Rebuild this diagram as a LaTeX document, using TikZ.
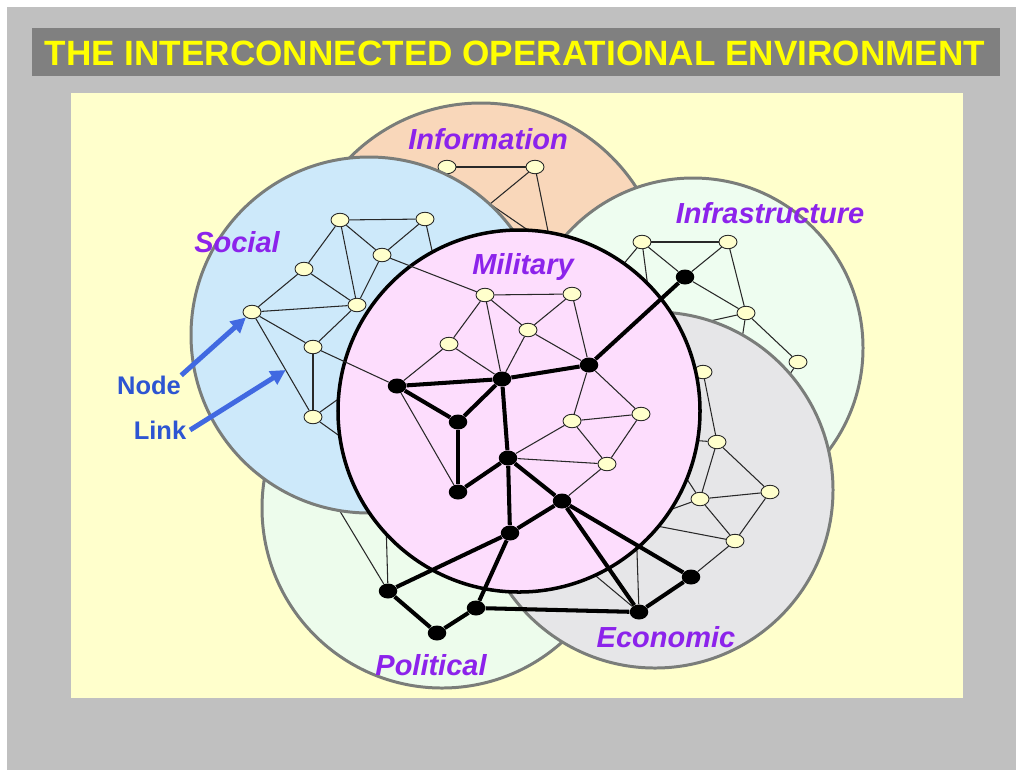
\documentclass[tikz,border=0pt]{standalone}
\usepackage{fontspec}
\setmainfont{Liberation Sans}
\usepackage{xcolor}
\usetikzlibrary{shapes.geometric,arrows.meta}

\definecolor{slidegray}{RGB}{192,192,192}
\definecolor{bargray}{RGB}{128,128,128}
\definecolor{titleyellow}{RGB}{255,255,0}
\definecolor{panelyellow}{RGB}{255,255,204}
\definecolor{infofill}{RGB}{249,215,186}
\definecolor{socialfill}{RGB}{205,233,250}
\definecolor{infrafill}{RGB}{238,253,240}
\definecolor{polfill}{RGB}{237,252,236}
\definecolor{econfill}{RGB}{230,230,232}
\definecolor{milfill}{RGB}{253,221,253}
\definecolor{ringgray}{RGB}{122,125,122}
\definecolor{nodecream}{RGB}{255,255,204}
\definecolor{linkgray}{RGB}{40,40,40}
\definecolor{areapurple}{RGB}{140,35,235}
\definecolor{pointblue}{RGB}{65,105,225}
\definecolor{textblue}{RGB}{45,85,210}

\tikzset{
  ring/.style={draw=ringgray, line width=1.7pt},
  pt/.style={ellipse, draw=linkgray, fill=nodecream, line width=0.5pt,
    minimum width=0.36cm, minimum height=0.27cm, inner sep=0pt},
  hub/.style={ellipse, fill=black, minimum width=0.37cm, minimum height=0.3cm, inner sep=0pt},
  weblink/.style={draw=linkgray, line width=0.6pt},
  backbone/.style={draw=black, line width=2.3pt},
  area/.style={text=areapurple, font=\fontsize{16.5}{18}\selectfont\bfseries\itshape},
  calltext/.style={text=textblue, inner sep=0pt, font=\fontsize{14.5}{16}\selectfont\bfseries},
  pointer/.style={draw=pointblue, line width=2.8pt, -{Triangle[length=0.3cm,width=0.3cm]}}
}

\begin{document}
\begin{tikzpicture}[x=0.02cm, y=-0.02cm]
    \useasboundingbox (0,0) rectangle (1016,769);
    \fill[white] (-5,-5) rectangle (1025,780);
    \fill[slidegray] (7,7) rectangle (1025,780);

    % title bar
    \fill[bargray] (32,28) rectangle (1000,76);
    \node[text=titleyellow, font=\fontsize{20}{24}\selectfont\bfseries] (title) at (515,53)
        {THE INTERCONNECTED OPERATIONAL ENVIRONMENT};
    \fill[panelyellow] (71,93) rectangle (963,698);

    % Information
    \draw[ring, fill=infofill] (481,288) circle (185);
    \node[pt] (i1) at (447,167) {};
    \node[pt] (i2) at (535,167) {};
    \coordinate (ih1) at (490,204);
    \coordinate (ih2) at (551,246);
    \draw[weblink] (i1) -- (i2); % i1-i2
    \draw[weblink] (i2) -- (ih1);
    \draw[weblink] (i2) -- (ih2);
    \draw[weblink] (ih1) -- (ih2);

    % Political
    \draw[ring, fill=polfill] (442,508) circle (180);
    \node[hub] (k10) at (388,591) {};
    \node[hub] (k11) at (437,633) {};
    \node[hub] (k12) at (476,608) {};
    \coordinate (ph1) at (326,488);
    \coordinate (ph2) at (386,522);
    \draw[weblink] (k10) -- (ph1);
    \draw[weblink] (k10) -- (ph2);

    % Social
    \draw[ring, fill=socialfill] (369,335) circle (178);
    \node[pt] (s1) at (340,220) {};
    \node[pt] (s2) at (425,219) {};
    \node[pt] (s3) at (382,255) {};
    \node[pt] (s4) at (304,269) {};
    \node[pt] (s5) at (357,305) {};
    \node[pt] (s6) at (252,312) {};
    \node[pt] (s7) at (313,347) {};
    \node[pt] (s8) at (313,417) {};
    \coordinate (sh1) at (365,380);
    \coordinate (sh2) at (383,467);
    \coordinate (sh3) at (443,300);
    \draw[weblink] (s1) -- (s2);
    \draw[weblink] (s1) -- (s3);
    \draw[weblink] (s1) -- (s4);
    \draw[weblink] (s1) -- (s5);
    \draw[weblink] (s2) -- (s3);
    \draw[weblink] (s2) -- (sh3);
    \draw[weblink] (s3) -- (s5);
    \draw[weblink] (s4) -- (s5);
    \draw[weblink] (s4) -- (s6);
    \draw[weblink] (s6) -- (s5);
    \draw[weblink] (s6) -- (s7);
    \draw[weblink] (s6) -- (s8) coordinate[pos=0.56] (lk); % the link the arrow points at
    \draw[weblink] (s5) -- (s7);
    \draw[weblink] (s7) -- (s8);
    \draw[weblink] (s8) -- (sh1);
    \draw[weblink] (s8) -- (sh2);

    % Infrastructure
    \draw[ring, fill=infrafill] (693,348) circle (170);
    \node[pt] (f1) at (642,242) {};
    \node[pt] (f2) at (728,242) {};
    \node[hub] (k9) at (685,277) {};
    \node[pt] (f3) at (746,313) {};
    \node[pt] (f4) at (798,362) {};
    \coordinate (fh1) at (600,292);
    \coordinate (fh2) at (652,318);
    \coordinate (fh3) at (692,325);
    \coordinate (fh4) at (740,352);
    \coordinate (fh5) at (778,392);
    \draw[weblink] (f1) -- (f2);
    \draw[weblink] (f1) -- (k9);
    \draw[weblink] (f2) -- (k9);
    \draw[weblink] (f2) -- (f3);
    \draw[weblink] (k9) -- (f3);
    \draw[weblink] (f3) -- (f4);
    \draw[weblink] (f1) -- (fh1);
    \draw[weblink] (f1) -- (fh2);
    \draw[weblink] (f3) -- (fh3);
    \draw[weblink] (f3) -- (fh4);
    \draw[weblink] (f4) -- (fh5);

    % Economic
    \draw[ring, fill=econfill] (655,490) circle (178);
    \node[pt] (e1) at (703,372) {};
    \node[pt] (e2) at (717,442) {};
    \node[pt] (e3) at (770,492) {};
    \node[pt] (e4) at (700,499) {};
    \node[pt] (e5) at (735,541) {};
    \node[hub] (k13) at (639,612) {};
    \node[hub] (k14) at (691,577) {};
    \coordinate (eh1) at (636,522);
    \coordinate (eh2) at (572,556);
    \coordinate (eh3) at (660,438);
    \draw[weblink] (e1) -- (e2);
    \draw[weblink] (e2) -- (e3);
    \draw[weblink] (e2) -- (e4);
    \draw[weblink] (e2) -- (eh3);
    \draw[weblink] (e4) -- (e3);
    \draw[weblink] (e4) -- (e5);
    \draw[weblink] (e3) -- (e5);
    \draw[weblink] (e4) -- (eh3);
    \draw[weblink] (e4) -- (eh1);
    \draw[weblink] (e5) -- (eh1);
    \draw[weblink] (e5) -- (k14);
    \draw[weblink] (eh1) -- (k13);
    \draw[weblink] (eh2) -- (k13);

    % Military
    \draw[line width=2pt, fill=milfill] (519,411) circle (181);
    \node[pt] (mA) at (485,295) {};
    \node[pt] (mB) at (572,294) {};
    \node[pt] (mC) at (528,330) {};
    \node[pt] (mD) at (449,344) {};
    \node[pt] (mE) at (572,421) {};
    \node[pt] (mF) at (641,414) {};
    \node[pt] (mG) at (607,464) {};
    \node[hub] (k1) at (397,386) {};
    \node[hub] (k2) at (502,379) {};
    \node[hub] (k3) at (589,365) {};
    \node[hub] (k4) at (458,422) {};
    \node[hub] (k5) at (458,492) {};
    \node[hub] (k6) at (508,458) {};
    \node[hub] (k7) at (562,501) {};
    \node[hub] (k8) at (510,533) {};
    \draw[weblink] (mA) -- (mB);
    \draw[weblink] (mA) -- (mC);
    \draw[weblink] (mB) -- (mC);
    \draw[weblink] (mA) -- (mD);
    \draw[weblink] (mA) -- (k2);
    \draw[weblink] (mC) -- (k2);
    \draw[weblink] (mB) -- (k3);
    \draw[weblink] (mC) -- (k3);
    \draw[weblink] (mD) -- (k1);
    \draw[weblink] (mD) -- (k2);
    \draw[weblink] (k1) -- (k5);
    \draw[weblink] (k3) -- (mE);
    \draw[weblink] (k3) -- (mF);
    \draw[weblink] (mE) -- (mF);
    \draw[weblink] (mE) -- (k6);
    \draw[weblink] (mE) -- (mG);
    \draw[weblink] (mF) -- (mG);
    \draw[weblink] (k6) -- (mG);
    \draw[weblink] (mG) -- (k7);

    % links across domains
    \draw[weblink] (s7) -- (k1);
    \draw[weblink] (s3) -- (mA);

    % the black network
    \draw[backbone] (k1) -- (k2);
    \draw[backbone] (k2) -- (k3);
    \draw[backbone] (k3) -- (k9);
    \draw[backbone] (k1) -- (k4);
    \draw[backbone] (k2) -- (k4);
    \draw[backbone] (k4) -- (k5);
    \draw[backbone] (k5) -- (k6);
    \draw[backbone] (k2) -- (k6);
    \draw[backbone] (k6) -- (k8);
    \draw[backbone] (k6) -- (k7);
    \draw[backbone] (k7) -- (k8);
    \draw[backbone] (k8) -- (k10);
    \draw[backbone] (k8) -- (k12);
    \draw[backbone] (k10) -- (k11);
    \draw[backbone] (k11) -- (k12);
    \draw[backbone] (k12) -- (k13);
    \draw[backbone] (k7) -- (k13);
    \draw[backbone] (k7) -- (k14);
    \draw[backbone] (k13) -- (k14);

    % domain names
    \node[area] (infolbl) at (488,139) {Information};
    \node[area] (sociallbl) at (237,242) {Social};
    \node[area] (infralbl) at (770,213) {Infrastructure};
    \node[area] (millbl) at (523,267) {Military};
    \node[area] (econlbl) at (666,637) {Economic};
    \node[area] (pollbl) at (431,665) {Political};

    % Node / Link callouts
    \node[calltext] (nodetxt) at (149,385) {Node};
    \node[calltext] (linktxt) at (160,430) {Link};
    \draw[pointer] (nodetxt.north east) -- (s6);
    \draw[pointer] ([xshift=2pt]linktxt.east) -- (lk);
\end{tikzpicture}
\end{document}
